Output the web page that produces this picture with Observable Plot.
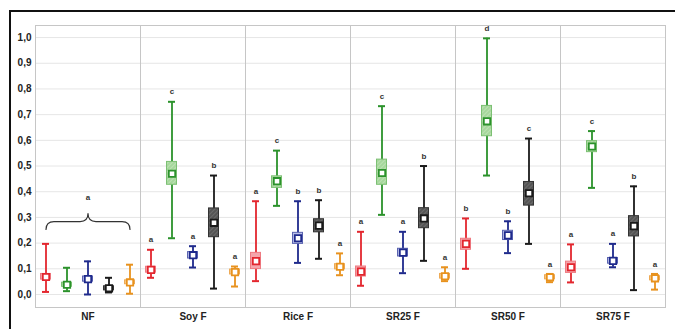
<!DOCTYPE html>
<html>
<head>
<meta charset="utf-8">
<script src="https://cdn.jsdelivr.net/npm/d3@7"></script>
<script src="https://cdn.jsdelivr.net/npm/@observablehq/plot@0.6"></script>
<style>
  body { margin: 0; background: #fff; }
  #wrap { position: relative; width: 675px; height: 329px; background: #fff; overflow: hidden; }
  #wrap svg { position: absolute; left: 0; top: 0; }
  #outer { position: absolute; left: 9px; top: 10px; right: -10px; bottom: -10px; border-left: 2px solid #111; border-top: 2px solid #111; pointer-events: none; }
</style>
</head>
<body>
<div id="wrap"><div id="outer"></div></div>
<script>
const groups = ["NF", "Soy F", "Rice F", "SR25 F", "SR50 F", "SR75 F"];
const series = ["S1", "S2", "S3", "S4", "S5"];
const lineColors = ["#e3262e", "#2b922b", "#1f2a8c", "#1a1a1a", "#e8921e"];
const boxFills = ["#f5a5ab", "url(#hatchGreen)", "#b9bfe8", "url(#hatchGray)", "#f8cc8c"];
const boxStrokes = ["#ee7b82", "#7cc073", "#5a63b0", "#333333", "#eeaa55"];

const maxV = [
  [0.197, 0.104, 0.129, 0.065, 0.116],
  [0.174, 0.750, 0.188, 0.463, 0.109],
  [0.363, 0.560, 0.363, 0.367, 0.160],
  [0.244, 0.733, 0.244, 0.500, 0.106],
  [0.296, 0.997, 0.285, 0.607, 0.080],
  [0.195, 0.636, 0.197, 0.421, 0.080]
];
const minV = [
  [0.010, 0.013, 0.000, 0.008, 0.003],
  [0.065, 0.219, 0.105, 0.023, 0.031],
  [0.052, 0.345, 0.123, 0.139, 0.075],
  [0.034, 0.310, 0.083, 0.131, 0.052],
  [0.100, 0.463, 0.161, 0.197, 0.048],
  [0.047, 0.415, 0.106, 0.017, 0.019]
];
const meanV = [
  [0.068, 0.038, 0.060, 0.024, 0.047],
  [0.096, 0.470, 0.153, 0.279, 0.087],
  [0.130, 0.441, 0.219, 0.268, 0.108],
  [0.089, 0.473, 0.163, 0.296, 0.071],
  [0.197, 0.674, 0.230, 0.394, 0.067],
  [0.106, 0.576, 0.131, 0.266, 0.063]
];
const q1V = [
  [0.058, 0.030, 0.050, 0.016, 0.040],
  [0.085, 0.427, 0.140, 0.223, 0.078],
  [0.099, 0.415, 0.197, 0.242, 0.098],
  [0.070, 0.427, 0.148, 0.258, 0.062],
  [0.174, 0.616, 0.212, 0.346, 0.059],
  [0.084, 0.554, 0.120, 0.226, 0.055]
];
const q3V = [
  [0.080, 0.046, 0.070, 0.032, 0.055],
  [0.108, 0.516, 0.165, 0.335, 0.097],
  [0.162, 0.460, 0.240, 0.293, 0.118],
  [0.109, 0.525, 0.178, 0.336, 0.080],
  [0.217, 0.734, 0.248, 0.438, 0.075],
  [0.128, 0.597, 0.142, 0.305, 0.071]
];
const letters = [
  [null, null, null, null, null],
  ["a", "c", "a", "b", "a"],
  ["a", "c", "b", "b", "a"],
  ["a", "c", "a", "b", "a"],
  ["b", "d", "b", "c", "a"],
  ["a", "c", "a", "b", "a"]
];
// group-level letter for NF, drawn over a brace spanning all five series
const braceGroup = "NF";
const braceLetter = "a";
const braceSeries = ["S1", "S3", "S5"];
const braceY = [0.253, 0.315, 0.253];

const rows = groups.flatMap((g, i) => series.map((s, j) => ({
  group: g, series: s,
  min: minV[i][j], max: maxV[i][j], mean: meanV[i][j],
  q1: q1V[i][j], q3: q3V[i][j], letter: letters[i][j],
  line: lineColors[j], boxFill: boxFills[j], boxStroke: boxStrokes[j]
})));
const letterRows = rows.filter(d => d.letter);
const braceRows = braceSeries.map((s, k) => ({group: braceGroup, series: s, y: braceY[k]}));
const braceLabel = [{group: braceGroup, series: braceSeries[1], y: braceY[1], text: braceLetter}];

function braceCurve(context) {
  let pts = [];
  return {
    areaStart() {}, areaEnd() {},
    lineStart() { pts = []; },
    point(x, y) { pts.push([+x, +y]); },
    lineEnd() {
      if (pts.length < 3) return;
      const [p0, pm, p2] = pts;
      const yh = (p0[1] + pm[1]) / 2;
      const r = Math.max(3, (p0[1] - pm[1]) / 2);
      context.moveTo(p0[0], p0[1]);
      context.quadraticCurveTo(p0[0], yh, p0[0] + r, yh);
      context.lineTo(pm[0] - r, yh);
      context.quadraticCurveTo(pm[0], yh, pm[0], pm[1]);
      context.quadraticCurveTo(pm[0], yh, pm[0] + r, yh);
      context.lineTo(p2[0] - r, yh);
      context.quadraticCurveTo(p2[0], yh, p2[0], p2[1]);
    }
  };
}

const chart = Plot.plot({
  width: 675, height: 329,
  marginLeft: 35, marginRight: 10, marginTop: 25, marginBottom: 22,
  style: {fontFamily: "'Liberation Sans', Arial, sans-serif", fontWeight: "bold", fontSize: "10px", color: "#222", background: "transparent"},
  fx: {domain: groups, padding: 0, label: null, tickSize: 0, tickPadding: 5, axis: "bottom"},
  x: {domain: series, padding: 0, axis: null},
  y: {domain: [-0.0506, 1.047], ticks: 10, tickSize: 0, tickPadding: 4, label: null,
      tickFormat: d => d.toFixed(1).replace(".", ",")},
  color: {type: "identity"},
  marks: [
    Plot.gridY({ticks: 10, stroke: "#e6e6e6", strokeOpacity: 1}),
    Plot.frame({stroke: "#c6c6c6", strokeWidth: 1}),
    Plot.ruleX(rows, {fx: "group", x: "series", y1: "min", y2: "max", stroke: "line", strokeWidth: 1.8}),
    Plot.tickY(rows, {fx: "group", x: "series", y: "max", stroke: "line", strokeWidth: 2, insetLeft: 7, insetRight: 7}),
    Plot.tickY(rows, {fx: "group", x: "series", y: "min", stroke: "line", strokeWidth: 2, insetLeft: 7, insetRight: 7}),
    Plot.barY(rows, {fx: "group", x: "series", y1: "q1", y2: "q3", fill: "boxFill", stroke: "boxStroke", strokeWidth: 1, insetLeft: 5.5, insetRight: 5.5}),
    Plot.dot(rows, {fx: "group", x: "series", y: "mean", symbol: "square", r: 3.6, fill: "white", stroke: "line", strokeWidth: 1.8}),
    Plot.text(letterRows, {fx: "group", x: "series", y: "max", text: "letter", dy: -10, fontSize: 8, fill: "#333"}),
    Plot.line(braceRows, {fx: "group", x: "series", y: "y", curve: braceCurve, stroke: "#333", strokeWidth: 1.2}),
    Plot.text(braceLabel, {fx: "group", x: "series", y: "y", text: "text", dy: -16, fontSize: 8, fill: "#333"})
  ]
});

const ns = "http://www.w3.org/2000/svg";
const defs = document.createElementNS(ns, "defs");
defs.innerHTML = `
  <pattern id="hatchGreen" patternUnits="userSpaceOnUse" width="3" height="3" patternTransform="rotate(45)">
    <rect width="3" height="3" fill="#a6d79c"></rect>
    <line x1="0" y1="0" x2="0" y2="3" stroke="#c9e9c2" stroke-width="1.2"></line>
  </pattern>
  <pattern id="hatchGray" patternUnits="userSpaceOnUse" width="3" height="3" patternTransform="rotate(45)">
    <rect width="3" height="3" fill="#555"></rect>
    <line x1="0" y1="0" x2="0" y2="3" stroke="#7a7a7a" stroke-width="1.2"></line>
  </pattern>`;
chart.insertBefore(defs, chart.firstChild);
document.getElementById("wrap").insertBefore(chart, document.getElementById("outer"));
</script>
</body>
</html>
